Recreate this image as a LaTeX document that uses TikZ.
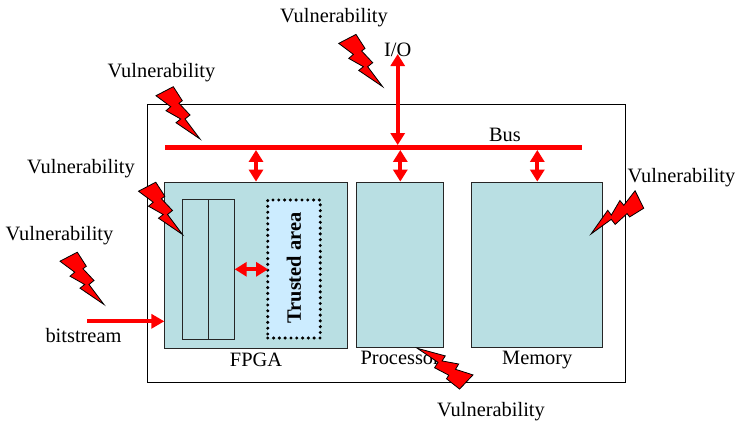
\documentclass[tikz,border=0pt]{standalone}
\usepackage{fontspec}
\setmainfont{Liberation Serif}
\usetikzlibrary{positioning,arrows.meta}
\definecolor{boxblue}{RGB}{185,223,227}
\definecolor{trustblue}{RGB}{204,236,255}
\tikzset{
    unit/.style={draw=black!85, line width=0.8pt, fill=boxblue, rectangle, inner sep=0pt},
    txt/.style={inner sep=0pt, font=\fontsize{20.4}{24}\selectfont},
    link/.style={draw=red, line width=4.3pt, {Triangle[length=12pt,width=14pt]}-{Triangle[length=12pt,width=14pt]}},
    oneway/.style={draw=red, line width=4.3pt, -{Triangle[length=13pt,width=14pt]}},
    bolt/.pic={
        \draw[fill=red, line width=0.8pt, line join=miter] (0,0) -- (-15,-20) -- (-10,-24) -- (-21,-35.7)
            -- (-17.7,-38.3) -- (-26.7,-52.3) -- (-44,-43.3) -- (-29.3,-32.3) -- (-34,-28.3)
            -- (-19.3,-20) -- (-24,-16.3) -- cycle;
    }
}
\begin{document}
\begin{tikzpicture}[x=1pt,y=-1pt]
    \useasboundingbox (0,0) rectangle (735,422);
    % Chip
    \node[draw, line width=0.9pt, minimum width=478pt, minimum height=278pt, inner sep=0pt] (chip) at (386,243) {};
    % Blocks
    \node[unit, minimum width=182.5pt, minimum height=166pt] (fpga) at (256,265) {};
    \node[unit, minimum width=87pt, minimum height=165pt] (proc) at (400.3,264.5) {};
    \node[unit, minimum width=131pt, minimum height=165pt] (mem) at (537.3,264.5) {};
    \node[unit, minimum width=26.2pt, minimum height=140pt] (col1) at (195,269.3) {};
    \node[unit, minimum width=26.2pt, minimum height=140pt, right=-0.8pt of col1] (col2) {};
    \node[draw, line width=3.4pt, dash pattern=on 0pt off 5.8pt, line cap=round, fill=trustblue, minimum width=52.5pt, minimum height=138pt, inner sep=0pt] (trust) at (294,269) {};
    \node[txt, rotate=90, font=\fontsize{20.4}{24}\selectfont\bfseries] (trusttxt) at (294,268) {Trusted area};
    % Bus
    \node[fill=red, minimum width=417pt, minimum height=4.5pt, inner sep=0pt] (bus) at (373.5,147.5) {};
    \node[txt] (buslbl) at (505,135) {Bus};
    \node[txt] (io) at (397.7,50) {I/O};
    % Block labels
    \node[txt, below=4pt of fpga] (fpgalbl) {FPGA};
    \node[txt, below=4pt of proc] (proclbl) {Processor};
    \node[txt, below=4pt of mem] (memlbl) {Memory};
    \node[txt] (bits) at (83.5,335.5) {bitstream};
    % Connections
    \draw[link] (io.south) ++(0,3pt) coordinate (iotip) -- (iotip |- bus.north);
    \draw[link] (fpga.north) -- (fpga.north |- bus.south);
    \draw[link] (proc.north) -- (proc.north |- bus.south);
    \draw[link] (mem.north) -- (mem.north |- bus.south);
    \draw[link] (col2.east) -- ([xshift=2pt]col2.east -| trust.west);
    \coordinate (bitsin) at (87,321.3);
    \draw[oneway] (bitsin) -- (bitsin -| fpga.west);
    % Attacks
    \pic at (200,139) {bolt};
    \pic at (382.7,86.7) {bolt};
    \pic at (182.5,234.5) {bolt};
    \pic at (104,304.5) {bolt};
    \pic[rotate=-161] at (417.3,348.3) {bolt};
    \pic[rotate=-91] at (591,234) {bolt};
    \node[txt] (v1) at (334,17.5) {Vulnerability};
    \node[txt] (v2) at (161.5,73) {Vulnerability};
    \node[txt] (v3) at (81,168.5) {Vulnerability};
    \node[txt] (v4) at (59.5,235.5) {Vulnerability};
    \node[txt] (v5) at (681.5,177.5) {Vulnerability};
    \node[txt] (v6) at (491,411.5) {Vulnerability};
\end{tikzpicture}
\end{document}
